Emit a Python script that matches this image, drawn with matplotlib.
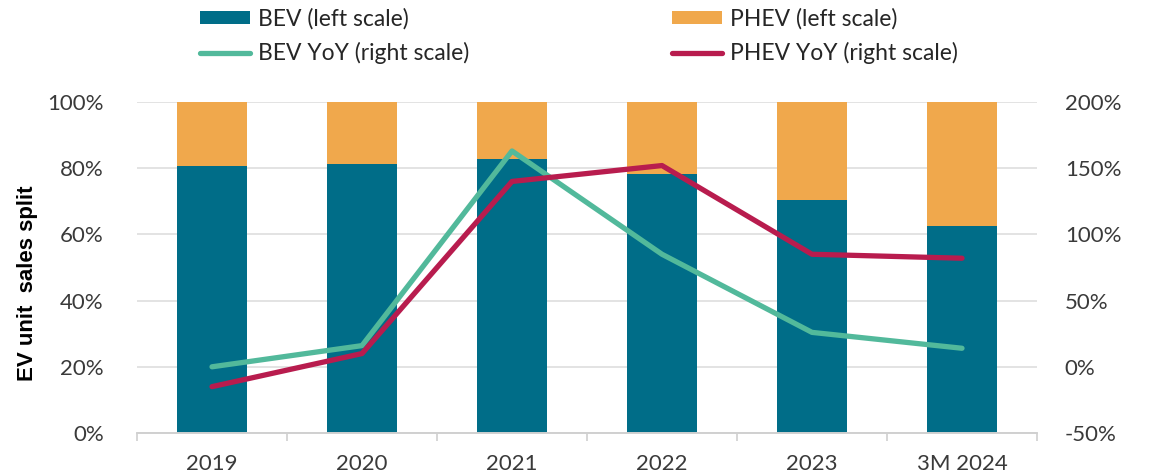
import numpy as np
import matplotlib.pyplot as plt
from matplotlib.ticker import PercentFormatter, FixedLocator

# data
years = ["2019", "2020", "2021", "2022", "2023", "3M 2024"]
bev_share = [80.7, 81.3, 82.8, 78.2, 70.4, 62.6]
phev_share = [100 - v for v in bev_share]
bev_yoy = [0, 16, 163, 85, 26, 14]
phev_yoy = [-15, 10, 140, 152, 85, 82]

c_bev = "#006d88"
c_phev = "#f0a84c"
c_bev_yoy = "#52b99b"
c_phev_yoy = "#b81c4e"
grey_txt = "#3a3a3a"

plt.rcParams["font.family"] = ["Lato", "DejaVu Sans"]
plt.rcParams["axes.unicode_minus"] = False

fig = plt.figure(figsize=(11.5, 4.75), dpi=100)
ax = fig.add_axes([137 / 1150, 1 - 433 / 475, 900 / 1150, 331 / 475])
ax2 = ax.twinx()

x = np.arange(len(years))
b1 = ax.bar(x, bev_share, width=0.47, color=c_bev, zorder=2)
b2 = ax.bar(x, phev_share, width=0.47, bottom=bev_share, color=c_phev, zorder=2)

l1, = ax2.plot(x, bev_yoy, color=c_bev_yoy, lw=3.8, solid_capstyle="round",
               solid_joinstyle="round")
l2, = ax2.plot(x, phev_yoy, color=c_phev_yoy, lw=3.8, solid_capstyle="round",
               solid_joinstyle="round")

ax.set_xlim(-0.5, len(years) - 0.5)
ax.set_ylim(0, 100)
ax2.set_ylim(-50, 200)
ax.set_yticks(np.arange(0, 101, 20))
ax2.set_yticks(np.arange(-50, 201, 50))
ax.yaxis.set_major_formatter(PercentFormatter(decimals=0))
ax2.yaxis.set_major_formatter(PercentFormatter(decimals=0))

ax.grid(axis="y", color="#dedede", lw=1.2, zorder=0)
ax.set_axisbelow(True)
for a in (ax, ax2):
    for s in ("top", "left", "right"):
        a.spines[s].set_visible(False)
    a.spines["bottom"].set_color("#d0d0d0")
    a.spines["bottom"].set_linewidth(1.2)
    a.tick_params(axis="y", length=0, labelsize=16, labelcolor=grey_txt)

ax.tick_params(axis="y", pad=24)
ax2.tick_params(axis="y", pad=20)

ax.set_xticks(x)
ax.set_xticklabels(years)
ax.tick_params(axis="x", which="major", length=0, pad=15, labelsize=16, labelcolor=grey_txt)
ax.xaxis.set_minor_locator(FixedLocator(np.arange(-0.5, len(years), 1.0)))
ax.tick_params(axis="x", which="minor", length=6, color="#d0d0d0", width=1.2)

ax.set_ylabel("EV unit  sales split", fontsize=16, fontweight="bold", color="black",
              family=["Liberation Sans", "DejaVu Sans"])
ax.yaxis.set_label_coords(-0.11, 0.453)

ax2.set_zorder(ax.get_zorder() + 1)
ax2.patch.set_visible(False)

leg_kw = dict(loc="upper left", frameon=False, borderpad=0, borderaxespad=0,
              prop={"family": ["Lato", "DejaVu Sans"], "size": 16.5},
              handlelength=2.2, handleheight=0.5, handletextpad=0.35,
              labelspacing=0.55, labelcolor="#262626")
leg1 = fig.legend([b1, l1], ["BEV (left scale)", "BEV YoY (right scale)"],
                  bbox_to_anchor=(200 / 1150, 1 - 8 / 475), **leg_kw)
leg2 = fig.legend([b2, l2], ["PHEV (left scale)", "PHEV YoY (right scale)"],
                  bbox_to_anchor=(672 / 1150, 1 - 8 / 475), **leg_kw)

fig.savefig("out.png", dpi=100)
